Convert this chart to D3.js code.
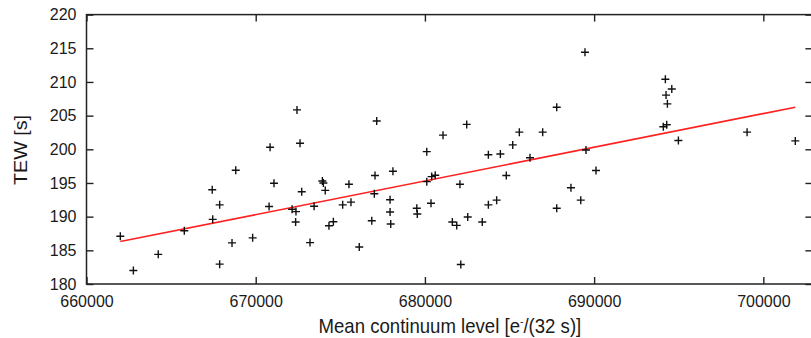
<!DOCTYPE html>
<html><head><meta charset="utf-8">
<script src="https://cdn.jsdelivr.net/npm/d3@7"></script>
<style>
html,body{margin:0;padding:0;background:#fff;overflow:hidden}
svg text{font-family:"Liberation Sans",Arial,Helvetica,sans-serif;fill:#1a1a1a}
</style></head>
<body><svg id="c" width="811" height="338"></svg>
<script>
// Data
const continuum = [662000,662770,664240,665780,667430,667870,667460,667870,668600,668820,
  669820,670850,671080,670790,672440,672620,672720,673940,674000,674110,
  673450,672150,672380,672360,673210,674330,674590,675510,677050,678110,
  677010,675140,675630,677940,677940,677980,676860,676120,677150,679520,
  679550,680110,680110,680400,680610,680360,681070,682070,681620,681880,
  682530,683390,683750,684240,684810,682120,682470,683750,684460,685190,
  685580,686210,686960,687790,687790,688630,689210,689460,689520,690110,
  694210,694590,694250,694330,694090,694290,694980,699040,701890];
const tew = [187.1,182.0,184.4,187.9,194.0,191.75,189.6,182.95,186.1,196.9,
  186.85,200.3,194.95,191.5,205.85,200.9,193.7,195.3,195.0,193.9,
  191.55,191.1,190.75,189.2,186.15,188.65,189.25,194.8,196.1,196.75,
  193.4,191.75,192.15,192.5,190.7,188.9,189.4,185.5,204.2,191.25,
  190.4,199.65,195.2,195.95,196.15,192.0,202.1,194.8,189.2,188.7,
  189.95,189.2,191.75,192.45,196.1,182.9,203.7,199.2,199.3,200.65,
  202.55,198.75,202.55,206.25,191.25,194.3,192.45,214.4,199.9,196.85,
  210.4,208.95,208.05,206.75,203.35,203.65,201.3,202.55,201.25];
const fitX = [662000, 701890];
const fitY = [186.3, 206.25];
const xTicks = [660000,670000,680000,690000,700000];
const yTicks = [180,185,190,195,200,205,210,215,220];
const xTitle = "Mean continuum level";
const yTitle = "TEW [s]";

const svg = d3.select("#c");
const L = 86.5, R = 812.4, T = 14.6, B = 284;
const x = d3.scaleLinear().domain([660000, 702900]).range([L, R]);
const y = d3.scaleLinear().domain([180, 220]).range([B, T]);

const tk = 7;
function styleAxis(g){
  g.select(".domain").remove();
  g.selectAll(".tick line").attr("stroke","#222").attr("stroke-width",1.4);
  g.selectAll(".tick text").attr("font-size",16).attr("fill","#1a1a1a")
    .attr("font-family",'"Liberation Sans",Arial,sans-serif');
}
svg.append("g").attr("transform",`translate(0,${B})`)
  .call(d3.axisBottom(x).tickValues(xTicks).tickFormat(d3.format("d")).tickSizeInner(-tk).tickSizeOuter(0).tickPadding(12))
  .call(styleAxis);
svg.append("g").attr("transform",`translate(0,${T})`)
  .call(d3.axisTop(x).tickValues(xTicks).tickFormat("").tickSizeInner(-tk).tickSizeOuter(0))
  .call(styleAxis);
svg.append("g").attr("transform",`translate(${L},0)`)
  .call(d3.axisLeft(y).tickValues(yTicks).tickFormat(d3.format("d")).tickSizeInner(-tk).tickSizeOuter(0).tickPadding(10))
  .call(styleAxis);
svg.append("g").attr("transform",`translate(${R},0)`)
  .call(d3.axisRight(y).tickValues(yTicks).tickFormat("").tickSizeInner(-tk).tickSizeOuter(0))
  .call(styleAxis);

svg.append("rect").attr("x",L).attr("y",T).attr("width",R-L).attr("height",B-T)
  .attr("fill","none").attr("stroke","#222").attr("stroke-width",1.5);

// fit line
svg.append("line")
  .attr("x1",x(fitX[0])).attr("y1",y(fitY[0]))
  .attr("x2",x(fitX[1])).attr("y2",y(fitY[1]))
  .attr("stroke","#ff2020").attr("stroke-width",1.6);

// points as plus marks
const pts = svg.append("g").attr("stroke","#111").attr("stroke-width",1.4);
const h = 4;
continuum.forEach((cx,i)=>{
  const px = x(cx), py = y(tew[i]);
  pts.append("path").attr("d",`M${px-h},${py}H${px+h}M${px},${py-h}V${py+h}`);
});

// axis titles
const xg = svg.append("g");
const xt = xg.append("text").attr("x",0).attr("y",0)
  .attr("text-anchor","start").attr("font-size",20);
xt.append("tspan").text(xTitle + " [e");
xt.append("tspan").attr("font-size",11).attr("dy",-8).text("-");
xt.append("tspan").attr("dy",8).text("/(32 s)]");
const w = xt.node().getComputedTextLength();
const targetW = 263;
xg.attr("transform",`translate(318.5,333) scale(${targetW/w},1)`);

svg.append("text").attr("transform","translate(27,150) rotate(-90)")
  .attr("text-anchor","middle").attr("font-size",19)
  .attr("textLength",70).attr("lengthAdjust","spacingAndGlyphs").text(yTitle);
</script></body></html>
